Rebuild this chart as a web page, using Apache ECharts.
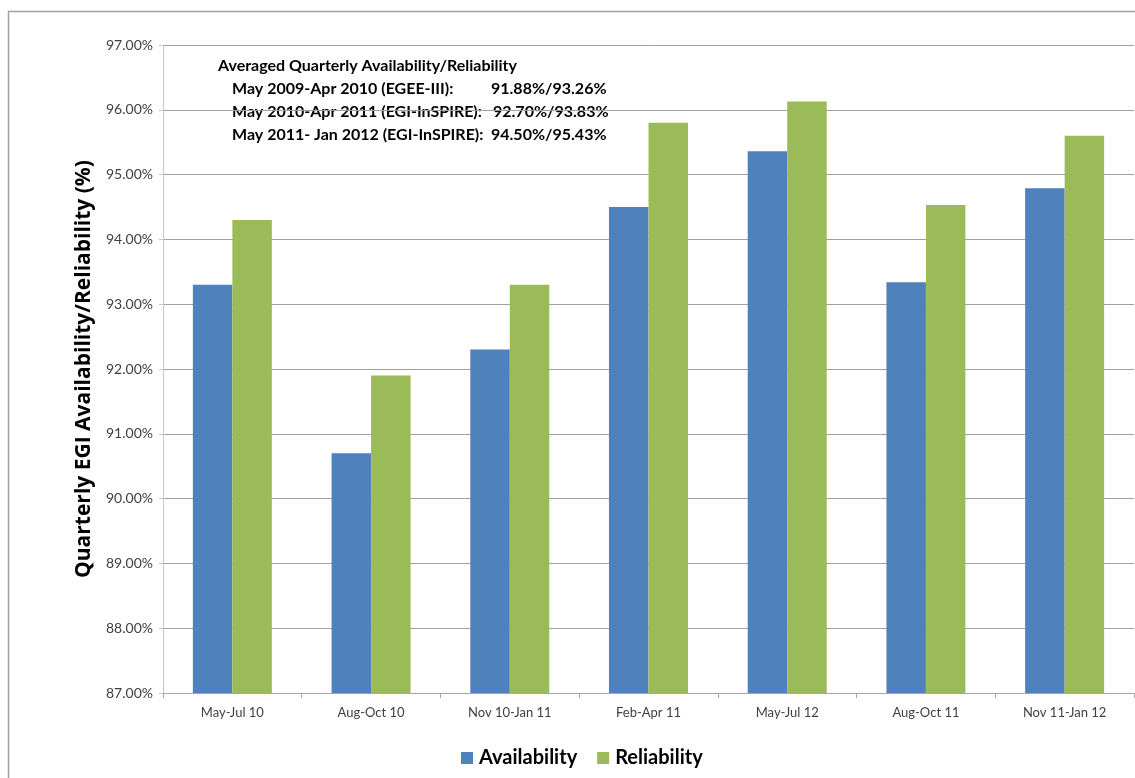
<!DOCTYPE html>
<html>
<head>
<meta charset="utf-8">
<script src="https://cdn.jsdelivr.net/npm/echarts@6/dist/echarts.min.js"></script>
<style>html,body{margin:0;padding:0;background:#fff;}#c{width:1135px;height:778px;}</style>
</head>
<body>
<div id="c"></div>
<script>
const categories = ['May-Jul 10','Aug-Oct 10','Nov 10-Jan 11','Feb-Apr 11','May-Jul 12','Aug-Oct 11','Nov 11-Jan 12'];
const availability = [93.30, 90.70, 92.30, 94.50, 95.36, 93.34, 94.79];
const reliability  = [94.30, 91.90, 93.30, 95.80, 96.13, 94.53, 95.60];
const annotationLabels = ['May 2009-Apr 2010 (EGEE-III):','May 2010-Apr 2011 (EGI-InSPIRE):','May 2011- Jan 2012 (EGI-InSPIRE):'];
const annotationValues = ['91.88%/93.26%','92.70%/93.83%','94.50%/95.43%'];
const annotationTitle = 'Averaged Quarterly Availability/Reliability';

const FONT = 'Lato';
const chart = echarts.init(document.getElementById('c'), null, {renderer:'canvas'});
const annFont = {fontFamily: FONT, fontSize: 16, fontWeight: 'bold', fill: '#000'};
const valueX = [491, 493, 491];
const graphics = [
  {type:'rect', shape:{x:8.5, y:11.5, width:1200, height:800}, style:{fill:'none', stroke:'#a0a0a0', lineWidth:1.5}, silent:true, z:-1},
  {type:'text', left:218, top:58, style:Object.assign({text:annotationTitle}, annFont)}
];
annotationLabels.forEach((t,i)=>{
  graphics.push({type:'text', left:232, top:81 + i*22.7, style:Object.assign({text:t}, annFont)});
  graphics.push({type:'text', left:valueX[i], top:81 + i*22.7, style:Object.assign({text:annotationValues[i]}, annFont)});
});
chart.setOption({
  animation:false,
  backgroundColor:'#fff',
  color:['#4F81BD','#9BBB59'],
  grid:{left:163, right:1, top:45, bottom:85, containLabel:false},
  legend:{
    bottom:5, left:456, itemWidth:12, itemHeight:12, itemGap:20,
    icon:'rect',
    textStyle:{fontFamily:FONT, fontSize:20, fontWeight:'bold', color:'#000', padding:[0,0,0,1]},
    data:['Availability','Reliability']
  },
  xAxis:{
    type:'category', data:categories,
    axisLine:{lineStyle:{color:'#a6a6a6', width:1}},
    axisTick:{show:true, length:5, lineStyle:{color:'#a6a6a6'}},
    axisLabel:{fontFamily:FONT, fontSize:13, color:'#404040', margin:13}
  },
  yAxis:{
    type:'value', min:87, max:97, interval:1,
    name:'Quarterly EGI Availability/Reliability (%)',
    nameLocation:'middle', nameGap:68,
    nameTextStyle:{fontFamily:'Open Sans', fontSize:21, fontWeight:'bold', color:'#000'},
    axisLine:{show:true, lineStyle:{color:'#c8c8c8'}},
    axisTick:{show:true, length:4, lineStyle:{color:'#c8c8c8'}},
    splitLine:{lineStyle:{color:'#a0a0a0', width:1}},
    axisLabel:{fontFamily:FONT, fontSize:14, color:'#404040', margin:10,
      formatter:v=>v.toFixed(2)+'%'}
  },
  series:[
    {name:'Availability', type:'bar', data:availability, barWidth:39.5, barGap:'0%'},
    {name:'Reliability', type:'bar', data:reliability, barWidth:39.5, barGap:'0%'}
  ],
  graphic:graphics
});
</script>
</body>
</html>
